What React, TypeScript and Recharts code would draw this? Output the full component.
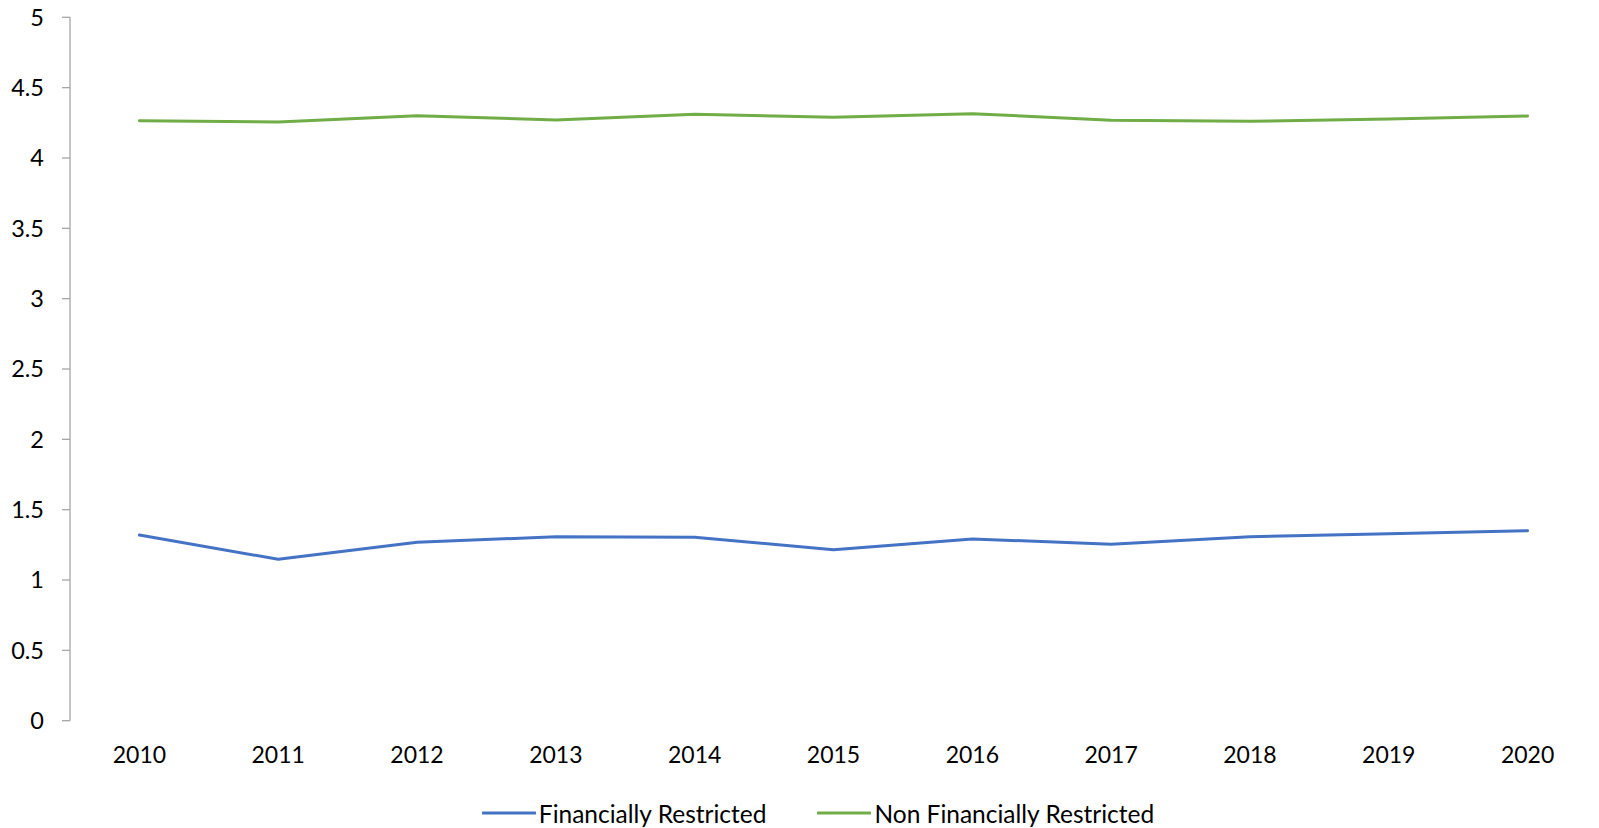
import React from 'react';
import { LineChart, Line, XAxis, YAxis, Legend } from 'recharts';

const years = ['2010', '2011', '2012', '2013', '2014', '2015', '2016', '2017', '2018', '2019', '2020'];
const financiallyRestricted = [1.320, 1.147, 1.268, 1.308, 1.304, 1.216, 1.292, 1.254, 1.308, 1.329, 1.350];
const nonFinanciallyRestricted = [4.265, 4.256, 4.300, 4.270, 4.310, 4.289, 4.315, 4.268, 4.261, 4.277, 4.298];
const yTicks = [0, 0.5, 1, 1.5, 2, 2.5, 3, 3.5, 4, 4.5, 5];
const seriesNames = ['Financially Restricted', 'Non Financially Restricted'];
const seriesColors = ['#4472C4', '#70AD47'];

const data = years.map((year, i) => ({
  year,
  pos: i + 0.5,
  fr: financiallyRestricted[i],
  nfr: nonFinanciallyRestricted[i],
}));
const boundaryTicks = years.map((_, i) => i).concat([years.length]);
const labelTicks = years.map((_, i) => i + 0.5);

const FONT = 'Lato, "Open Sans", sans-serif';
const AXIS = '#A6A6A6';

const LegendContent = () => (
  <div
    style={{
      display: 'flex',
      justifyContent: 'center',
      alignItems: 'center',
      height: 30,
      paddingLeft: 31,
      fontFamily: FONT,
      fontSize: 24.5,
      color: '#000',
    }}
  >
    {seriesNames.map((name, i) => (
      <div key={name} style={{ display: 'flex', alignItems: 'center', marginRight: i === 0 ? 51 : 0 }}>
        <svg width={54} height={4} style={{ marginRight: 3 }}>
          <line x1={1} y1={2} x2={53} y2={2} stroke={seriesColors[i]} strokeWidth={3} strokeLinecap="round" />
        </svg>
        <span>{name}</span>
      </div>
    ))}
  </div>
);

export default function App() {
  return (
    <div style={{ position: 'absolute', left: 0, top: 0 }}>
      <LineChart
        width={1599}
        height={828}
        data={data}
        margin={{ top: 17.3, right: 2, left: 8, bottom: 0 }}
      >
        <XAxis
          xAxisId="grid"
          type="number"
          dataKey="pos"
          domain={[0, years.length]}
          ticks={boundaryTicks}
          tickFormatter={() => ''}
          tickSize={8}
          height={0}
          axisLine={{ stroke: AXIS, strokeWidth: 1.3 }}
          tickLine={{ stroke: AXIS, strokeWidth: 1.3 }}
          allowDataOverflow
        />
        <XAxis
          xAxisId="lbl"
          type="number"
          dataKey="pos"
          domain={[0, years.length]}
          ticks={labelTicks}
          tickFormatter={(v: number) => years[Math.round(v - 0.5)]}
          tickSize={8}
          tickMargin={18}
          height={77.3}
          axisLine={false}
          tickLine={false}
          interval={0}
          tick={{ fill: '#000', fontFamily: FONT, fontSize: 23 }}
          allowDataOverflow
        />
        <YAxis
          domain={[0, 5]}
          ticks={yTicks}
          width={62}
          tickSize={8}
          tickMargin={18}
          interval={0}
          axisLine={{ stroke: AXIS, strokeWidth: 1.3 }}
          tickLine={{ stroke: AXIS, strokeWidth: 1.3 }}
          tick={{ fill: '#000', fontFamily: FONT, fontSize: 23.5 }}
        />
        <Legend verticalAlign="bottom" content={<LegendContent />} />
        <Line
          xAxisId="lbl"
          type="linear"
          dataKey="fr"
          name={seriesNames[0]}
          stroke={seriesColors[0]}
          strokeWidth={3}
          strokeLinecap="round"
          strokeLinejoin="round"
          dot={false}
          isAnimationActive={false}
        />
        <Line
          xAxisId="lbl"
          type="linear"
          dataKey="nfr"
          name={seriesNames[1]}
          stroke={seriesColors[1]}
          strokeWidth={3}
          strokeLinecap="round"
          strokeLinejoin="round"
          dot={false}
          isAnimationActive={false}
        />
      </LineChart>
    </div>
  );
}
